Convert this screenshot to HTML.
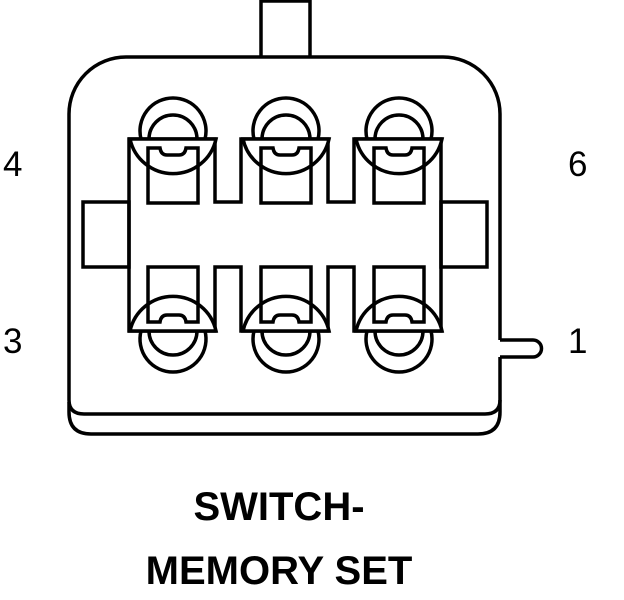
<!DOCTYPE html>
<html><head><style>
html,body{margin:0;padding:0;background:#fff;}
svg{display:block;}
text{font-family:"Liberation Sans",Arial,sans-serif;fill:#000;}
</style></head><body>
<svg width="624" height="600" viewBox="0 0 624 600" xmlns="http://www.w3.org/2000/svg">
<defs>
<g id="term" fill="none" stroke="#000" stroke-width="3.5">
  <path d="M-32 139 A33 33 0 1 1 32 139"/>
  <path d="M-24 139 A24 24 0 1 1 24 139"/>
  <path d="M-43 139 L43 139 A44 44 0 0 1 -43 139 Z" fill="#fff"/>
  <path d="M-25 203 L-25 148 L-13 148 Q-12 155 -6 155 L6 155 Q12 155 13 148 L25 148 L25 203 Z"/>
</g>
</defs>
<g fill="none" stroke="#000" stroke-width="3.5">
  <path d="M261 57 L261 1 L310 1 L310 57"/>
  <path d="M69 400 L69 114 A57 57 0 0 1 126 57 L443 57 A57 57 0 0 1 500 114 L500 340"/>
  <path d="M500 357 L500 395"/>
  <path d="M69 400 Q69 414 84 414 L485 414 Q500 414 500 400"/>
  <path d="M69 402 L69 412 Q69 434 91 434 L478 434 Q500 434 500 412 L500 395"/>
  <path d="M500 340 L533 340 A8.5 8.5 0 0 1 533 357 L500 357"/>
  <rect x="83" y="202" width="46" height="65"/>
  <rect x="441" y="202" width="46" height="65"/>
  <path d="M129 139 L129 331 L215 331 L215 267 L241 267 L241 331 L328 331 L328 267 L354 267 L354 331 L441 331 L441 139 L354 139 L354 202 L328 202 L328 139 L241 139 L241 202 L215 202 L215 139 Z"/>
</g>
<use href="#term" x="173" y="0"/>
<use href="#term" x="286" y="0"/>
<use href="#term" x="399" y="0"/>
<g transform="translate(0,470) scale(1,-1)">
<use href="#term" x="173" y="0"/>
<use href="#term" x="286" y="0"/>
<use href="#term" x="399" y="0"/>
</g>
<text x="3" y="176" font-size="35">4</text>
<text x="568" y="176" font-size="35">6</text>
<text x="3" y="353" font-size="35">3</text>
<text x="568" y="353" font-size="35">1</text>
<text x="279" y="520" font-size="40" font-weight="bold" text-anchor="middle">SWITCH-</text>
<text x="279" y="584" font-size="40" font-weight="bold" text-anchor="middle">MEMORY SET</text>
</svg>
</body></html>
